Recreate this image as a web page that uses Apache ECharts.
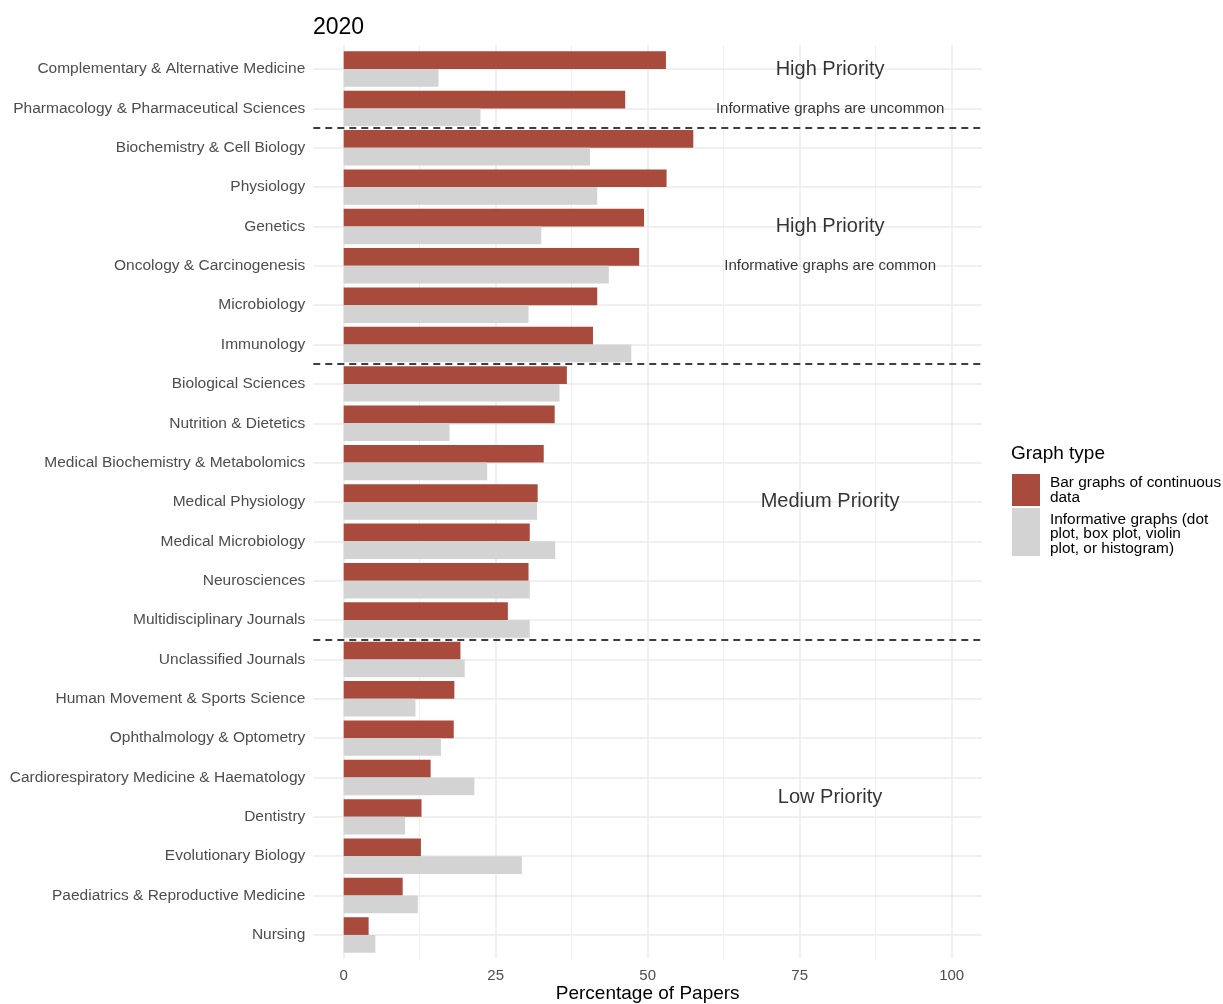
<!DOCTYPE html>
<html>
<head>
<meta charset="utf-8">
<script src="https://cdn.jsdelivr.net/npm/echarts@6/dist/echarts.min.js"></script>
<style>
html,body{margin:0;padding:0;background:#fff;}
#chart{width:1223px;height:1004px;}
</style>
</head>
<body>
<div id="chart"></div>
<script>
const categories = [
  'Complementary & Alternative Medicine',
  'Pharmacology & Pharmaceutical Sciences',
  'Biochemistry & Cell Biology',
  'Physiology',
  'Genetics',
  'Oncology & Carcinogenesis',
  'Microbiology',
  'Immunology',
  'Biological Sciences',
  'Nutrition & Dietetics',
  'Medical Biochemistry & Metabolomics',
  'Medical Physiology',
  'Medical Microbiology',
  'Neurosciences',
  'Multidisciplinary Journals',
  'Unclassified Journals',
  'Human Movement & Sports Science',
  'Ophthalmology & Optometry',
  'Cardiorespiratory Medicine & Haematology',
  'Dentistry',
  'Evolutionary Biology',
  'Paediatrics & Reproductive Medicine',
  'Nursing'
];
const barGraphValues = [53.0, 46.3, 57.5, 53.1, 49.4, 48.6, 41.7, 41.0, 36.7, 34.7, 32.9, 31.9, 30.6, 30.4, 27.0, 19.2, 18.2, 18.1, 14.3, 12.8, 12.7, 9.7, 4.1];
const informativeValues = [15.6, 22.5, 40.5, 41.7, 32.5, 43.6, 30.4, 47.3, 35.5, 17.4, 23.6, 31.8, 34.8, 30.6, 30.6, 19.9, 11.8, 16.0, 21.5, 10.1, 29.3, 12.2, 5.2];
const seriesNames = ['Bar graphs of continuous data', 'Informative graphs (dot plot, box plot, violin plot, or histogram)'];
const legendLabels = ['Bar graphs of continuous\ndata', 'Informative graphs (dot\nplot, box plot, violin\nplot, or histogram)'];
const xTicks = [0, 25, 50, 75, 100];
const xMinorTicks = [12.5, 37.5, 62.5, 87.5];
const dividerPositions = [1.5, 7.5, 14.5];
const annotationTexts = ['High Priority', 'Informative graphs are uncommon', 'High Priority', 'Informative graphs are common', 'Medium Priority', 'Low Priority'];
const annotationX = [80, 80, 80, 80, 80, 80];
const annotationY = [0, 1, 4, 5, 11, 18.5];
const annotationBig = [true, false, true, false, true, true];

const RED = '#a84a3c';
const GREY = '#d3d3d3';
const GRID_COL = '#ebebeb';
const FONT = 'Liberation Sans, Arial, sans-serif';

const LEFT = 313.3, RIGHT = 1223 - 982.1;
const BAND = 39.36;
const PANEL_TOP = 45.4, PANEL_H = BAND * 23.2;
const CAT_TOP = PANEL_TOP + 0.1 * BAND, CAT_H = BAND * 23;

const chart = echarts.init(document.getElementById('chart'), null, {renderer: 'canvas'});

const gridLineData = [];
xTicks.forEach(v => gridLineData.push({xAxis: v, lineStyle: {color: GRID_COL, width: 1.5, type: 'solid'}}));
xMinorTicks.forEach(v => gridLineData.push({xAxis: v, lineStyle: {color: GRID_COL, width: 0.8, type: 'solid'}}));
categories.forEach((c, i) => gridLineData.push({yAxis: i, lineStyle: {color: GRID_COL, width: 1.5, type: 'solid'}}));

const option = {
  animation: false,
  backgroundColor: '#fff',
  textStyle: {fontFamily: FONT},
  title: {
    text: '2020', left: 308, top: 11,
    textStyle: {fontFamily: FONT, fontSize: 23, fontWeight: 'normal', color: '#000'}
  },
  grid: [
    {left: LEFT, right: RIGHT, top: CAT_TOP, height: CAT_H, containLabel: false, outerBoundsMode: 'none'},
    {left: LEFT, right: RIGHT, top: PANEL_TOP, height: PANEL_H, containLabel: false, outerBoundsMode: 'none'}
  ],
  xAxis: [
    {type: 'value', gridIndex: 0, min: -5, max: 105, show: false, splitLine: {show: false}},
    {type: 'value', gridIndex: 1, min: -5, max: 105,
      axisLine: {show: false}, axisTick: {show: false}, splitLine: {show: false},
      axisLabel: {customValues: xTicks, color: '#4d4d4d', fontSize: 15, fontFamily: FONT, margin: 10},
      name: 'Percentage of Papers', nameLocation: 'middle', nameGap: 26, nameMoveOverlap: false,
      nameTextStyle: {color: '#000', fontSize: 19, fontFamily: FONT}
    }
  ],
  yAxis: [
    {type: 'category', gridIndex: 0, data: categories, inverse: true,
      axisLine: {show: false}, axisTick: {show: false}, splitLine: {show: false},
      axisLabel: {color: '#4d4d4d', fontSize: 15.5, fontFamily: FONT, margin: 8}
    },
    {type: 'value', gridIndex: 1, min: -0.6, max: 22.6, inverse: true, show: false, splitLine: {show: false}}
  ],
  series: [
    {
      type: 'line', xAxisIndex: 1, yAxisIndex: 1, data: [], silent: true, z: 0,
      markLine: {silent: true, symbol: 'none', label: {show: false}, animation: false, z: 0, data: gridLineData}
    },
    {
      name: seriesNames[0], type: 'bar', xAxisIndex: 0, yAxisIndex: 0, data: barGraphValues,
      itemStyle: {color: RED}, barGap: '0%', barCategoryGap: '10%', z: 2
    },
    {
      name: seriesNames[1], type: 'bar', xAxisIndex: 0, yAxisIndex: 0, data: informativeValues,
      itemStyle: {color: GREY}, barGap: '0%', barCategoryGap: '10%', z: 2
    },
    {
      type: 'line', xAxisIndex: 1, yAxisIndex: 1, data: [], silent: true, z: 5,
      markLine: {silent: true, symbol: 'none', label: {show: false}, animation: false,
        data: dividerPositions.map(v => ({yAxis: v, lineStyle: {color: '#000', width: 1.6, type: [7, 5]}}))}
    },
    {
      type: 'scatter', xAxisIndex: 1, yAxisIndex: 1, symbolSize: 0, silent: true, z: 6,
      data: annotationTexts.map((t, i) => ({
        value: [annotationX[i], annotationY[i], t],
        label: {fontSize: annotationBig[i] ? 20 : 15}
      })),
      label: {show: true, position: 'inside', color: '#000', fontFamily: FONT,
        formatter: p => p.value[2]}
    }
  ],
  graphic: [
    {type: 'text', left: 1011, top: 444, style: {text: 'Graph type', fontSize: 19, fontFamily: FONT, fill: '#000'}},
    {type: 'rect', shape: {x: 1012, y: 474, width: 28, height: 32}, style: {fill: RED}},
    {type: 'text', x: 1050, y: 490, style: {text: legendLabels[0], fontSize: 15.4, lineHeight: 14.5, fontFamily: FONT, fill: '#000', verticalAlign: 'middle'}},
    {type: 'rect', shape: {x: 1012, y: 508, width: 28, height: 48}, style: {fill: GREY}},
    {type: 'text', x: 1050, y: 534, style: {text: legendLabels[1], fontSize: 15.4, lineHeight: 14.5, fontFamily: FONT, fill: '#000', verticalAlign: 'middle'}}
  ]
};
chart.setOption(option);
</script>
</body>
</html>
